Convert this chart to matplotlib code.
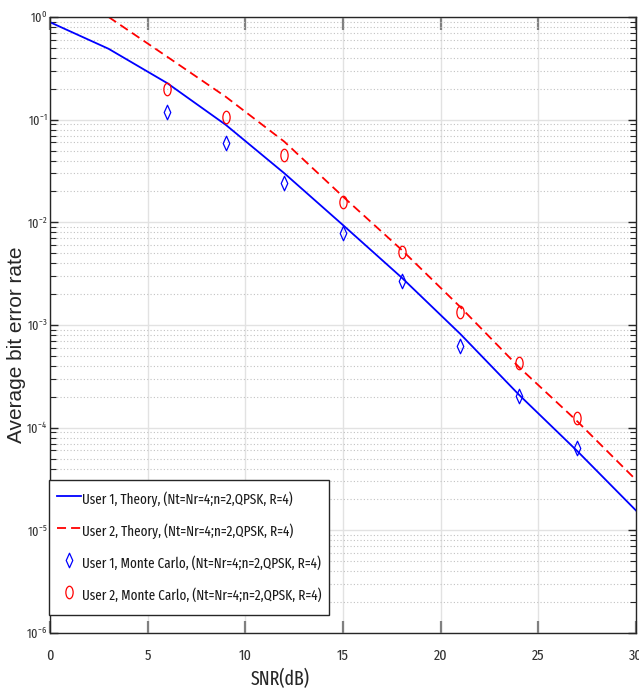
import numpy as np
import matplotlib
matplotlib.use('Agg')
import matplotlib.pyplot as plt
from matplotlib.path import Path
from matplotlib.transforms import Affine2D
from matplotlib.ticker import LogLocator, NullFormatter

# Data
snr_theory = [0, 3, 6, 9, 12, 15, 18, 21, 24, 27, 30]
ber_user1_theory = [0.89, 0.49, 0.227, 0.089, 0.030, 0.0094, 0.0029, 8.2e-4, 2.1e-4, 5.9e-5, 1.56e-5]
snr_theory2 = [3, 6, 9, 12, 15, 18, 21, 24, 27, 30]
ber_user2_theory = [1.0, 0.41, 0.167, 0.061, 0.0178, 0.0054, 0.0015, 3.9e-4, 1.15e-4, 3.1e-5]

snr_mc = [6, 9, 12, 15, 18, 21, 24, 27]
ber_user1_mc = [0.119, 0.059, 0.024, 0.0079, 0.0027, 6.3e-4, 2.04e-4, 6.3e-5]
ber_user2_mc = [0.198, 0.105, 0.045, 0.0158, 0.0051, 0.00135, 4.25e-4, 1.24e-4]

labels = [
    'User 1, Theory, (Nt=Nr=4;n=2,QPSK, R=4)',
    'User 2, Theory, (Nt=Nr=4;n=2,QPSK, R=4)',
    'User 1, Monte Carlo, (Nt=Nr=4;n=2,QPSK, R=4)',
    'User 2, Monte Carlo, (Nt=Nr=4;n=2,QPSK, R=4)',
]

# narrow font to mimic the squeezed look of the original
narrow = ['Fira Sans Extra Condensed', 'Roboto Condensed', 'DejaVu Sans']
plt.rcParams['font.family'] = narrow
plt.rcParams['mathtext.fontset'] = 'custom'
plt.rcParams['mathtext.rm'] = 'Fira Sans Extra Condensed'
plt.rcParams['mathtext.it'] = 'Fira Sans Extra Condensed'
plt.rcParams['mathtext.sf'] = 'Fira Sans Extra Condensed'

axis_col = '#262626'
W, H = 639, 694

# squeezed markers, like the MATLAB ones in the picture
ellipse = Path.unit_circle().transformed(Affine2D().scale(0.58, 1.0))
diamond = Path([(0, -1), (0.45, 0), (0, 1), (-0.45, 0), (0, -1)],
               [Path.MOVETO, Path.LINETO, Path.LINETO, Path.LINETO, Path.CLOSEPOLY])

fig = plt.figure(figsize=(W / 100, H / 100), dpi=100)
ax = fig.add_axes([50 / W, 1 - 633 / H, 586 / W, 616 / H])

ax.semilogy(snr_theory, ber_user1_theory, '-', color='#0000ff', lw=1.3, label=labels[0])
ax.semilogy(snr_theory2, ber_user2_theory, '--', color='#ff0000', lw=1.3,
            dashes=(5, 2.8), label=labels[1])
ax.semilogy(snr_mc, ber_user1_mc, linestyle='none', marker=diamond, ms=10.5, mfc='none',
            mec='#0000ff', mew=0.9, label=labels[2])
ax.semilogy(snr_mc, ber_user2_mc, linestyle='none', marker=ellipse, ms=9, mfc='none',
            mec='#ff0000', mew=0.9, label=labels[3])

ax.set_xlim(0, 30)
ax.set_ylim(1e-6, 1)
ax.set_xticks([0, 5, 10, 15, 20, 25, 30])
ax.yaxis.set_major_locator(LogLocator(base=10, numticks=10))
ax.yaxis.set_minor_locator(LogLocator(base=10, subs=np.arange(2, 10), numticks=100))
ax.yaxis.set_minor_formatter(NullFormatter())

ax.grid(True, which='major', color='#e2e2e2', lw=1.0, ls='-')
ax.grid(True, which='minor', axis='y', color='#c2c2c2', lw=0.8, ls=(0, (1, 2)))
ax.set_axisbelow(True)

ax.tick_params(which='both', direction='in', top=True, right=True, colors=axis_col,
               labelcolor='#333333')
ax.tick_params(axis='x', which='major', length=9, width=1.6, color='#808080',
               labelsize=11, pad=11)
ax.tick_params(axis='y', which='major', length=6, width=1.0, labelsize=9.5, pad=2)
ax.tick_params(axis='y', which='minor', length=4, width=0.8)
for s in ax.spines.values():
    s.set_color(axis_col)
    s.set_linewidth(1.0)

ax.set_xlabel('SNR(dB)', fontsize=14, color=axis_col)
ax.xaxis.set_label_coords((280 - 50) / 586, (633 - 669) / 616)
ax.set_ylabel('Average bit error rate', fontsize=15, color=axis_col,
              family=['Liberation Sans', 'DejaVu Sans'])
ax.yaxis.set_label_coords((26 - 50) / 586, (633 - 345) / 616)

leg = ax.legend(loc='upper left', bbox_to_anchor=(49 / W, 1 - 480 / H),
                bbox_transform=fig.transFigure, borderaxespad=0, fancybox=False,
                framealpha=1, edgecolor='#262626', fontsize=10.3, handlelength=1.65,
                handleheight=2.1, handletextpad=0.08, labelspacing=0.62, borderpad=0.56)
leg.get_frame().set_linewidth(1.0)
for t in leg.get_texts():
    t.set_color('#1a1a1a')

fig.savefig('out.png', dpi=100)
